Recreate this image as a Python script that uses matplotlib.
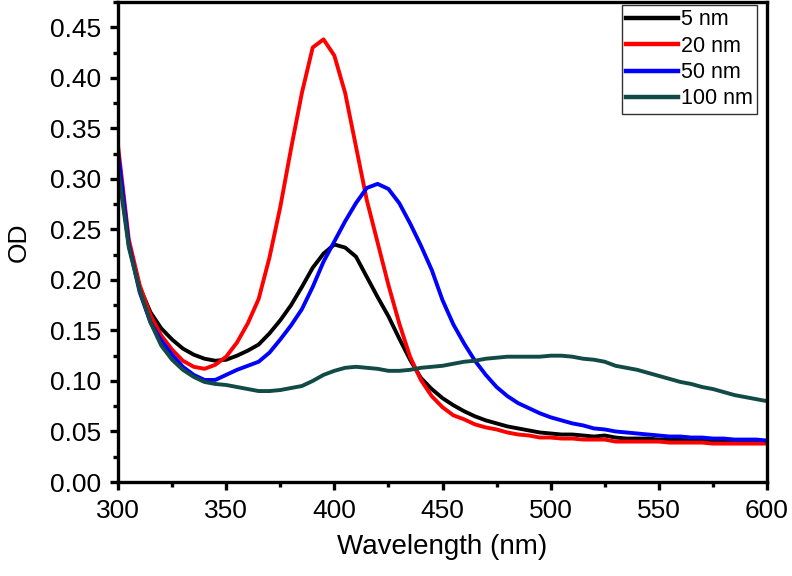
import matplotlib
matplotlib.use("Agg")
import matplotlib.pyplot as plt
from matplotlib.ticker import MultipleLocator

plt.rcParams['font.family'] = ['Liberation Sans', 'DejaVu Sans']

# wavelength grid (nm)
wavelength = list(range(300, 605, 5))

od_5nm = [0.315, 0.235, 0.193, 0.168, 0.152, 0.141, 0.132, 0.126, 0.122, 0.120,
          0.121, 0.125, 0.130, 0.136, 0.147, 0.160, 0.175, 0.193, 0.212, 0.226,
          0.235, 0.232, 0.223, 0.203, 0.183, 0.164, 0.142, 0.121, 0.103, 0.092,
          0.083, 0.076, 0.070, 0.065, 0.061, 0.058, 0.055, 0.053, 0.051, 0.049,
          0.048, 0.047, 0.047, 0.046, 0.045, 0.046, 0.044, 0.043, 0.043, 0.043,
          0.042, 0.042, 0.042, 0.042, 0.041, 0.041, 0.041, 0.041, 0.040, 0.040,
          0.040]

od_20nm = [0.333, 0.240, 0.195, 0.165, 0.145, 0.131, 0.120, 0.114, 0.112, 0.116,
           0.124, 0.138, 0.157, 0.181, 0.222, 0.272, 0.330, 0.385, 0.430, 0.438,
           0.422, 0.385, 0.332, 0.279, 0.237, 0.195, 0.157, 0.124, 0.101, 0.085,
           0.074, 0.066, 0.062, 0.057, 0.054, 0.052, 0.049, 0.047, 0.046, 0.044,
           0.044, 0.043, 0.043, 0.042, 0.042, 0.042, 0.040, 0.040, 0.040, 0.040,
           0.040, 0.039, 0.039, 0.039, 0.039, 0.038, 0.038, 0.038, 0.038, 0.038,
           0.038]

od_50nm = [0.327, 0.235, 0.188, 0.158, 0.140, 0.126, 0.114, 0.106, 0.101, 0.101,
           0.106, 0.111, 0.115, 0.119, 0.128, 0.141, 0.155, 0.171, 0.193, 0.218,
           0.238, 0.258, 0.276, 0.291, 0.295, 0.290, 0.276, 0.256, 0.234, 0.210,
           0.180, 0.156, 0.137, 0.120, 0.106, 0.094, 0.085, 0.078, 0.073, 0.068,
           0.064, 0.061, 0.058, 0.056, 0.053, 0.052, 0.050, 0.049, 0.048, 0.047,
           0.046, 0.045, 0.045, 0.044, 0.044, 0.043, 0.043, 0.042, 0.042, 0.042,
           0.041]

od_100nm = [0.310, 0.232, 0.190, 0.158, 0.135, 0.121, 0.111, 0.104, 0.099, 0.097,
            0.096, 0.094, 0.092, 0.090, 0.090, 0.091, 0.093, 0.095, 0.100, 0.106,
            0.110, 0.113, 0.114, 0.113, 0.112, 0.110, 0.110, 0.111, 0.113, 0.114,
            0.115, 0.117, 0.119, 0.120, 0.122, 0.123, 0.124, 0.124, 0.124, 0.124,
            0.125, 0.125, 0.124, 0.122, 0.121, 0.119, 0.115, 0.113, 0.111, 0.108,
            0.105, 0.102, 0.099, 0.097, 0.094, 0.092, 0.089, 0.086, 0.084, 0.082,
            0.080]

labels = ["5 nm", "20 nm", "50 nm", "100 nm"]
colors = ["black", "#ff0000", "#0000ff", "#124a46"]

fig = plt.figure(figsize=(7.92, 5.76), dpi=100)
ax = fig.add_axes([118 / 792, 1 - 482 / 576, 649 / 792, 480 / 576])

for series, lab, col in zip([od_5nm, od_20nm, od_50nm, od_100nm], labels, colors):
    ax.plot(wavelength, series, color=col, lw=2.8, label=lab)

ax.set_xlim(300, 600)
ax.set_ylim(0, 0.475)
ax.xaxis.set_major_locator(MultipleLocator(50))
ax.xaxis.set_minor_locator(MultipleLocator(25))
ax.yaxis.set_major_locator(MultipleLocator(0.05))
ax.yaxis.set_minor_locator(MultipleLocator(0.025))
ax.yaxis.set_major_formatter(matplotlib.ticker.FormatStrFormatter('%.2f'))

for s in ax.spines.values():
    s.set_linewidth(2.4)
ax.tick_params(which='major', direction='out', length=6, width=2.4, labelsize=19, pad=6)
ax.tick_params(which='minor', direction='out', length=3.5, width=2.4)

ax.set_xlabel("Wavelength (nm)", fontsize=20, labelpad=8)
ax.set_ylabel("OD", fontsize=19, labelpad=14)

leg = ax.legend(loc='upper right', bbox_to_anchor=(757 / 792, 1 - 5 / 576),
                bbox_transform=fig.transFigure, fontsize=15.5, frameon=True,
                fancybox=False, borderaxespad=0, borderpad=0.2,
                handlelength=2.4, handletextpad=0.15, labelspacing=0.25)
leg.get_frame().set_edgecolor('black')
leg.get_frame().set_linewidth(1.0)
for line in leg.get_lines():
    line.set_linewidth(3.2)

fig.savefig("out.png", dpi=100)
